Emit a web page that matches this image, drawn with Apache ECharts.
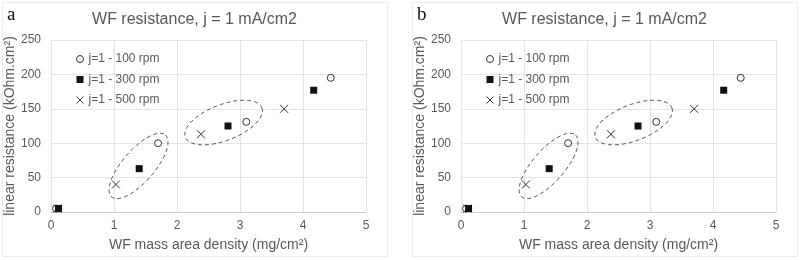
<!DOCTYPE html>
<html>
<head>
<meta charset="utf-8">
<script src="https://cdn.jsdelivr.net/npm/echarts@6/dist/echarts.min.js"></script>
<style>
  html, body { margin: 0; padding: 0; background: #fff; }
  #chart { width: 800px; height: 260px; }
</style>
</head>
<body>
<div id="chart"></div>
<script>
// data (same in both panels)
const xTicks = [0, 1, 2, 3, 4, 5]
const yTicks = [0, 50, 100, 150, 200, 250]
const seriesNames = ['j=1 - 100 rpm', 'j=1 - 300 rpm', 'j=1 - 500 rpm']
const rpm100 = [[0.08, 5], [1.70, 100], [3.10, 131], [4.44, 195]]
const rpm300 = [[0.12, 5], [1.40, 63], [2.81, 125], [4.17, 177]]
const rpm500 = [[0.10, 5], [1.03, 40], [2.38, 113], [3.70, 150]]
// centres of the dashed ellipses
const ellipseCenters = [[1.39, 67], [2.74, 130]]
const panelLetters = ['a', 'b']
const titleText = 'WF resistance, j = 1 mA/cm2'
const xName = 'WF mass area density (mg/cm²)'
const yName = 'linear resistance (kOhm.cm²)'

const textColor = '#595959'
const font = 'Liberation Sans, Arial, sans-serif'
// radii in px and rotation in degrees for each ellipse
const ellipseShape = [
  { rx: 41, ry: 16, rot: 49 },
  { rx: 41, ry: 18, rot: 21 }
]
const crossPath = 'path://M0,0L10,10M10,0L0,10'
const panelOffset = [0, 410]

const myChart = echarts.init(document.getElementById('chart'))

const grids = []
const xAxes = []
const yAxes = []
const legends = []
const series = []
const graphics = []

panelOffset.forEach((dx, i) => {
  grids.push({ left: 51 + dx, top: 40, width: 315, height: 172 })
  xAxes.push({
    type: 'value',
    gridIndex: i,
    min: xTicks[0],
    max: xTicks[xTicks.length - 1],
    interval: xTicks[1] - xTicks[0],
    axisLine: { show: true, lineStyle: { color: '#cccccc' } },
    axisTick: { show: false },
    axisLabel: { color: textColor, fontSize: 12, fontFamily: font, margin: 8 },
    splitLine: { show: true, lineStyle: { color: '#e4e4e4' } },
    name: xName,
    nameLocation: 'middle',
    nameGap: 26,
    nameTextStyle: { color: textColor, fontSize: 14, fontFamily: font }
  })
  yAxes.push({
    type: 'value',
    gridIndex: i,
    min: yTicks[0],
    max: yTicks[yTicks.length - 1],
    interval: yTicks[1] - yTicks[0],
    axisLine: { show: false },
    axisTick: { show: false },
    axisLabel: { color: textColor, fontSize: 12, fontFamily: font, margin: 10 },
    splitLine: { show: true, lineStyle: { color: '#e4e4e4' } },
    name: yName,
    nameLocation: 'middle',
    nameGap: 33,
    nameTextStyle: { color: textColor, fontSize: 14, fontFamily: font }
  })
  legends.push({
    orient: 'vertical',
    left: 76 + dx,
    top: 53,
    padding: 0,
    itemWidth: 7,
    itemHeight: 7,
    itemGap: 8.5,
    selectedMode: false,
    itemStyle: { borderWidth: 1 },
    textStyle: { color: textColor, fontSize: 12, fontFamily: font },
    data: [
      { name: seriesNames[0], icon: 'circle' },
      { name: seriesNames[1], icon: 'rect' },
      { name: seriesNames[2], icon: crossPath }
    ]
  })
  series.push(
    {
      name: seriesNames[0],
      type: 'scatter',
      xAxisIndex: i,
      yAxisIndex: i,
      symbol: 'circle',
      symbolSize: 7,
      z: 2,
      itemStyle: { color: '#ffffff', borderColor: '#333333', borderWidth: 1, opacity: 1 },
      data: rpm100
    },
    {
      name: seriesNames[2],
      type: 'scatter',
      xAxisIndex: i,
      yAxisIndex: i,
      symbol: crossPath,
      symbolSize: 8,
      z: 3,
      itemStyle: { color: '#333333', borderColor: '#333333', borderWidth: 1, opacity: 1 },
      data: rpm500
    },
    {
      name: seriesNames[1],
      type: 'scatter',
      xAxisIndex: i,
      yAxisIndex: i,
      symbol: 'rect',
      symbolSize: 7,
      z: 4,
      itemStyle: { color: '#111111', opacity: 1 },
      data: rpm300
    },
    {
      type: 'custom',
      xAxisIndex: i,
      yAxisIndex: i,
      silent: true,
      z: 1,
      data: ellipseCenters,
      renderItem: (params, api) => {
        const c = api.coord([api.value(0), api.value(1)])
        const s = ellipseShape[params.dataIndex]
        const r = (s.rot * Math.PI) / 180
        const points = []
        for (let k = 0; k < 72; k++) {
          const t = (k / 72) * Math.PI * 2
          const ex = s.rx * Math.cos(t)
          const ey = s.ry * Math.sin(t)
          points.push([
            c[0] + ex * Math.cos(r) + ey * Math.sin(r),
            c[1] - ex * Math.sin(r) + ey * Math.cos(r)
          ])
        }
        return {
          type: 'polygon',
          shape: { points },
          style: { fill: 'none', stroke: '#555555', lineWidth: 1, lineDash: [4, 3] }
        }
      }
    }
  )
  // panel frame, title, letter
  graphics.push(
    {
      type: 'rect',
      shape: { x: 2.5 + dx, y: 2.5, width: 385, height: 254 },
      style: { fill: 'none', stroke: '#ececec', lineWidth: 1 },
      z: -1
    },
    {
      type: 'text',
      x: 194.5 + dx,
      y: 20,
      style: {
        text: titleText,
        fill: textColor,
        font: '16px ' + font,
        textAlign: 'center',
        textVerticalAlign: 'middle'
      }
    },
    {
      type: 'text',
      x: 7 + dx,
      y: 15,
      style: {
        text: panelLetters[i],
        fill: '#111111',
        font: '19px Liberation Serif, serif',
        textAlign: 'left',
        textVerticalAlign: 'middle'
      }
    }
  )
})

myChart.setOption({
  animation: false,
  grid: grids,
  xAxis: xAxes,
  yAxis: yAxes,
  legend: legends,
  series: series,
  graphic: graphics
})
</script>
</body>
</html>
